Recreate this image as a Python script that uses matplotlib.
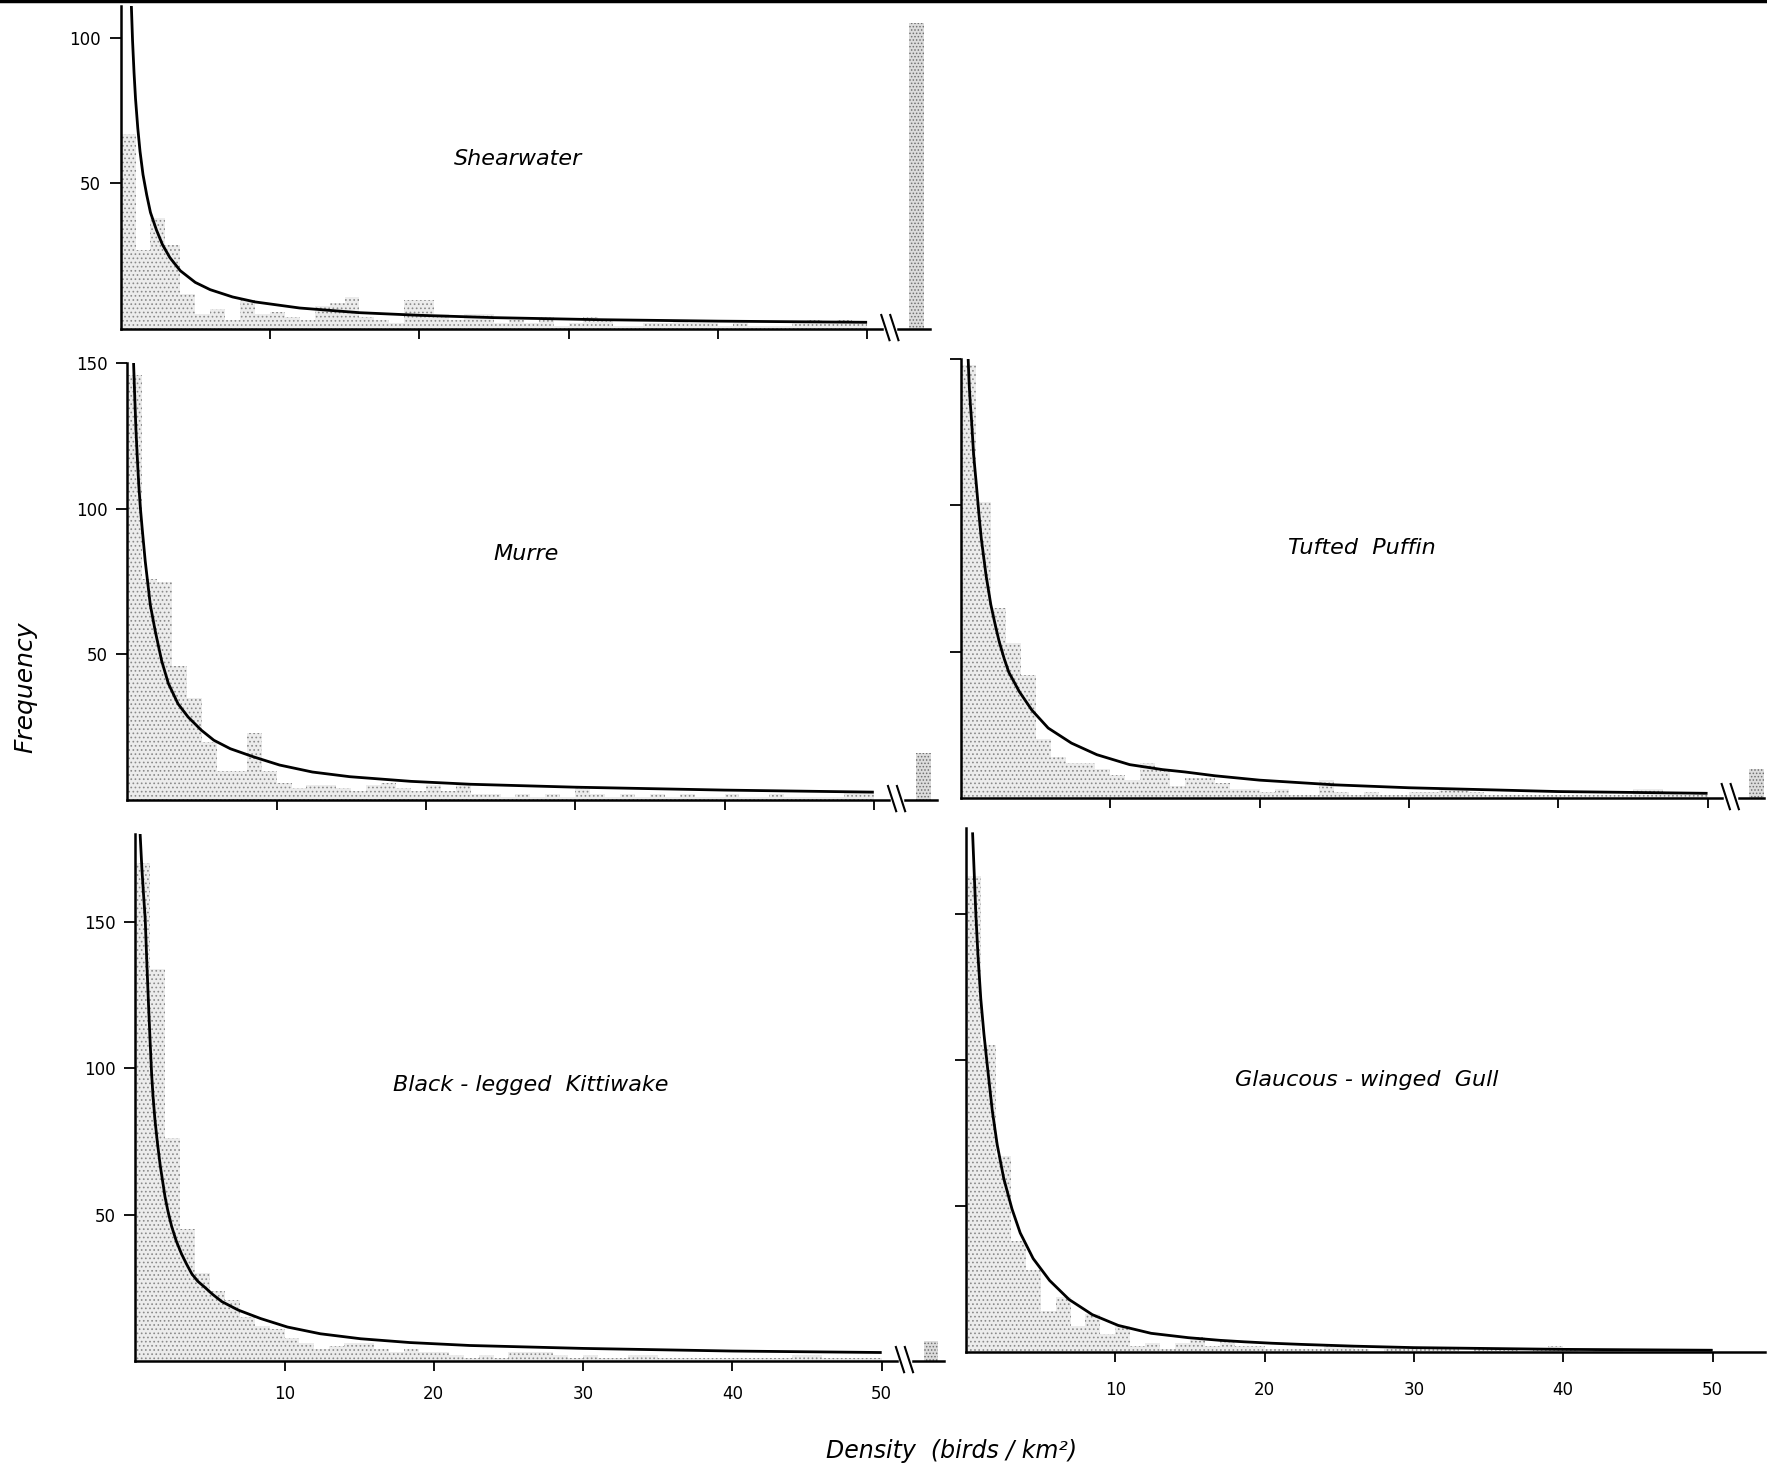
import matplotlib.pyplot as plt

plt.rcParams['font.family'] = ['DejaVu Sans']
plt.rcParams['hatch.linewidth'] = 0.7

# frequency per 1 bird/km2 density class (0-1, 1-2, ... 49-50)
shearwater_counts = [67, 27, 38, 29, 12, 5, 7, 3, 10, 5, 6, 4, 3, 8, 9, 11, 4, 3, 2, 10,
                     10, 5, 3, 5, 5, 2, 3, 2, 4, 1, 2, 4, 3, 1, 1, 2, 2, 3, 2, 2,
                     1, 2, 1, 1, 1, 2, 3, 2, 3, 2]
murre_counts = [146, 76, 75, 46, 35, 20, 10, 10, 23, 10, 6, 4, 5, 5, 4, 3, 5, 6, 4, 3,
                5, 3, 5, 2, 2, 1, 2, 1, 2, 1, 4, 2, 1, 2, 1, 2, 1, 2, 1, 1,
                2, 1, 1, 2, 1, 1, 1, 1, 3, 3]
puffin_counts = [148, 101, 65, 53, 42, 20, 14, 12, 12, 10, 8, 6, 12, 10, 4, 7, 7, 5, 3, 3,
                 2, 3, 1, 1, 6, 2, 1, 2, 1, 1, 2, 2, 3, 3, 2, 1, 1, 1, 1, 1,
                 1, 1, 1, 1, 1, 3, 3, 2, 1, 2]
kittiwake_counts = [170, 134, 76, 45, 30, 24, 21, 15, 12, 11, 8, 6, 4, 5, 6, 6, 4, 3, 4, 3,
                    3, 2, 1, 2, 1, 3, 3, 3, 2, 1, 2, 1, 1, 2, 2, 1, 1, 1, 1, 1,
                    1, 1, 1, 1, 2, 2, 1, 1, 1, 1]
gull_counts = [163, 105, 67, 38, 28, 14, 19, 9, 13, 6, 9, 2, 3, 1, 3, 5, 2, 4, 2, 2,
               1, 1, 1, 1, 2, 2, 1, 0, 1, 1, 1, 1, 1, 0, 1, 1, 1, 0, 1, 2,
               1, 0, 1, 1, 0, 1, 1, 0, 1, 1]

# class beyond the axis break (> 50 birds/km2)
shearwater_over = 105
murre_over = 16
puffin_over = 10
kittiwake_over = 7

# fitted curves, points
shearwater_fit_x = [0.72, 0.8, 0.9, 1.0, 1.15, 1.3, 1.5, 1.75, 2.0, 2.4, 2.8, 3.3, 4.0, 5.0,
                    6.0, 7.5, 9, 12, 16, 20, 25, 32, 40, 50]
shearwater_fit_y = [111, 99, 88, 79, 69, 61, 53, 46, 40, 34, 29, 24.5, 20, 16,
                    13.5, 11, 9.3, 7.2, 5.6, 4.7, 3.9, 3.2, 2.7, 2.3]
murre_fit_x = [0.42, 0.5, 0.58, 0.66, 0.77, 0.88, 1.0, 1.2, 1.54, 1.87, 2.3, 2.75, 3.4,
               4.07, 4.95, 5.8, 6.9, 8.46, 10.2, 12.4, 14.9, 19, 23, 30, 40, 50]
murre_fit_y = [150, 138, 127, 118.5, 108, 100, 93, 82, 67, 58, 47.8, 40, 33,
               28.5, 24, 20.5, 17.6, 14.8, 12, 9.6, 8, 6.4, 5.4, 4.4, 3.4, 2.7]
puffin_fit_x = [0.48, 0.55, 0.62, 0.7, 0.85, 1.03, 1.2, 1.36, 1.68, 2.0, 2.3, 2.56, 2.9,
                3.2, 3.9, 4.75, 5.84, 7.4, 9.1, 11.3, 13.5, 15, 17, 20, 25, 30, 40, 50]
puffin_fit_y = [150, 141, 135, 129.5, 117, 107, 97, 88.6, 76, 66, 59, 53.4, 47.5,
                43, 36.4, 30, 23.9, 18.75, 14.8, 11.4, 9.7, 8.9, 7.6, 6.1, 4.5, 3.5, 2.2, 1.6]
kittiwake_fit_x = [0.33, 0.45, 0.55, 0.67, 0.78, 0.89, 1.0, 1.1, 1.2, 1.33, 1.5, 1.67, 1.85,
                   2.0, 2.2, 2.44, 2.75, 3.1, 3.45, 3.8, 4.2, 4.7, 5.2, 5.8, 6.9, 8.4,
                   10.2, 12.4, 15.1, 18.4, 22.4, 30, 40, 50]
kittiwake_fit_y = [180, 168, 160, 151, 136, 122, 109, 98, 90, 82, 74, 67, 61,
                   56, 51, 46, 41, 36.6, 33, 29.7, 27.2, 25, 22.7, 20.3, 17.4, 14.5,
                   11.6, 9.3, 7.6, 6.3, 5.3, 4.3, 3.4, 2.9]
gull_fit_x = [0.44, 0.55, 0.66, 0.8, 0.99, 1.2, 1.43, 1.76, 2.09, 2.53, 3.08, 3.63, 4.5,
              5.6, 6.9, 8.46, 10.2, 12.4, 14.9, 17, 18.6, 20.5, 22.5, 26, 30, 40, 50]
gull_fit_y = [178, 164, 150, 136, 121, 109, 98, 82.7, 71, 59.4, 49, 40.8, 32,
              24.5, 18, 12.8, 9.1, 6.4, 4.9, 4.0, 3.5, 3.0, 2.6, 2.0, 1.5, 0.9, 0.6]

x_ticks = [10, 20, 30, 40, 50]
x_ticklabels = ['10', '20', '30', '40', '50']

W, H = 1767, 1470
fig = plt.figure(figsize=(W / 100, H / 100), dpi=100)

BAR_FACE = '#ececec'
BAR_DOTS = '#8a8a8a'


def panel(left_px, base_px, top_px, xmax, ymax, counts, over, fit_x, fit_y,
          yticks, ylabels, xlabels, broken=True, xpad=10):
    # place axes in pixel units of the original figure (15 px per density unit)
    width_px = xmax * 14.93
    ax = fig.add_axes([left_px / W, 1 - base_px / H, width_px / W, (base_px - top_px) / H])
    ax.set_xlim(0, xmax)
    ax.set_ylim(0, ymax)
    ax.patch.set_alpha(0)

    ax.bar(range(len(counts)), counts, width=1, align='edge', color=BAR_FACE,
           edgecolor=BAR_DOTS, hatch='....', linewidth=0)
    if over is not None:
        ax.bar(52.8, over, width=1.0, align='edge', color='#dcdcdc',
               edgecolor='#707070', hatch='.....', linewidth=0)
    ax.plot(fit_x, fit_y, color='black', lw=2.0, solid_capstyle='butt')

    for s in ['top', 'right', 'bottom']:
        ax.spines[s].set_visible(False)
    ax.spines['left'].set_linewidth(1.8)

    # x axis line with a break before the >50 class
    if broken:
        ax.plot([0, 51.0], [0, 0], color='black', lw=1.8, clip_on=False)
        ax.plot([52.1, xmax], [0, 0], color='black', lw=1.8, clip_on=False)
        d = 14 / (base_px - top_px)
        tr = ax.get_xaxis_transform()
        for x0 in (50.95, 51.55):
            ax.plot([x0, x0 + 0.55], [d, -0.8 * d], color='black', lw=1.5,
                    transform=tr, clip_on=False)
    else:
        ax.plot([0, xmax], [0, 0], color='black', lw=1.8, clip_on=False)

    ax.set_xticks(x_ticks)
    ax.set_xticklabels(xlabels if xlabels else [])
    ax.tick_params(axis='x', direction='out', length=7, width=1.3, pad=xpad, labelsize=12)
    ax.set_yticks(yticks)
    ax.set_yticklabels(ylabels if ylabels else [])
    ax.tick_params(axis='y', direction='out', length=8, width=1.3, pad=6, labelsize=12)
    return ax


panel(120.6, 329, 5.6, 54.2, 111, shearwater_counts, shearwater_over,
      shearwater_fit_x, shearwater_fit_y, [50, 100], ['50', '100'], None)
panel(127.3, 800, 363, 54.2, 150, murre_counts, murre_over,
      murre_fit_x, murre_fit_y, [50, 100, 150], ['50', '100', '150'], None)
panel(961, 798, 359, 53.8, 150, puffin_counts, puffin_over,
      puffin_fit_x, puffin_fit_y, [50, 100, 150], None, None)
panel(135.2, 1361, 834, 54.2, 180, kittiwake_counts, kittiwake_over,
      kittiwake_fit_x, kittiwake_fit_y, [50, 100, 150], ['50', '100', '150'],
      x_ticklabels, xpad=10)
panel(966, 1352, 828, 53.5, 179.5, gull_counts, None,
      gull_fit_x, gull_fit_y, [50, 100, 150], None, x_ticklabels,
      broken=False, xpad=14)

names = [('Shearwater', 518, 159), ('Murre', 526, 554), ('Tufted  Puffin', 1362, 548),
         ('Black - legged  Kittiwake', 531, 1085), ('Glaucous - winged  Gull', 1367, 1080)]
for name, px, py in names:
    fig.text(px / W, 1 - py / H, name, fontsize=16, style='italic',
             ha='center', va='center')

fig.text(25 / W, 1 - 687 / H, 'Frequency', fontsize=18, style='italic',
         rotation=90, ha='center', va='center')
fig.text(952 / W, 1 - 1451 / H, 'Density  (birds / km²)', fontsize=17, style='italic',
         ha='center', va='center')

# dark edge along the top of the scanned page
fig.add_artist(plt.Line2D([0, 1], [0.9995, 0.9995], color='black', lw=2.5,
                          transform=fig.transFigure))

fig.savefig('out.png', dpi=100)
